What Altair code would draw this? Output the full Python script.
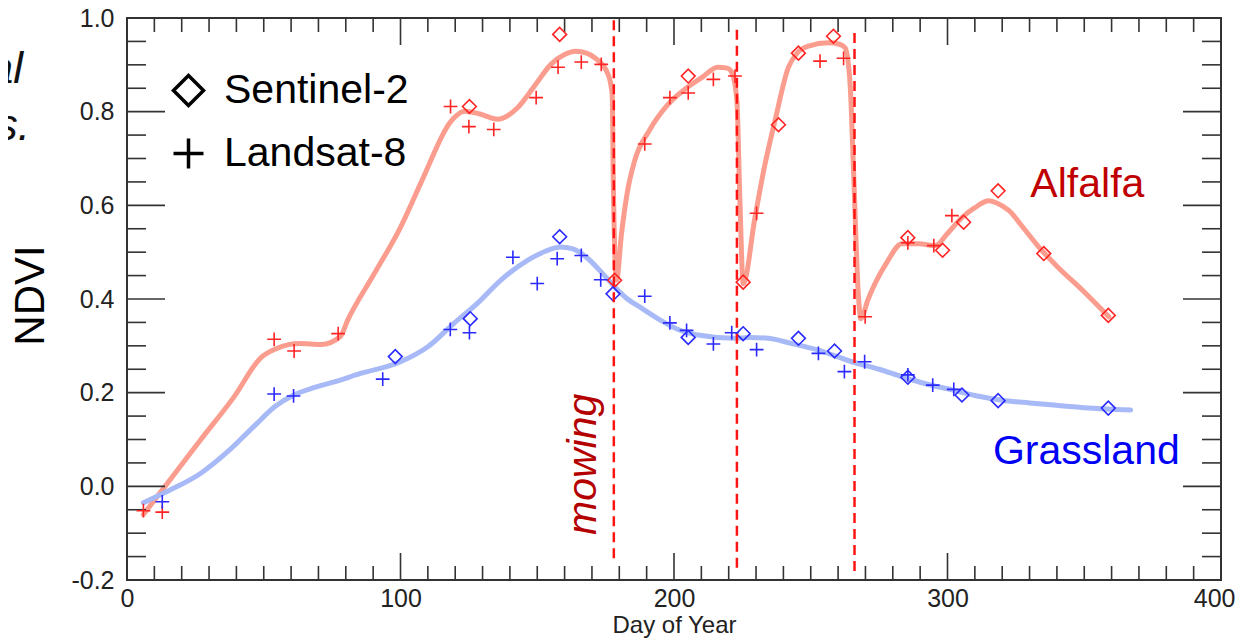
import altair as alt
import pandas as pd

# ---------------- data ----------------
# smoothed curves
alf_line_day = [6, 13, 27, 39, 49, 55, 63, 71, 78, 80.7, 90, 100, 108, 118.5, 123.4, 129,
                135.6, 142.9, 149, 155, 160, 164, 168, 171, 175.9, 177.4, 177.8, 179,
                180.8, 183, 185.6, 191, 197.9, 204, 210, 216, 219.5, 221.2, 223, 224.1,
                225.3, 229.6, 233, 236.9, 241.8, 245, 249.2, 256.5, 260.5, 262.6, 264.4,
                265.6, 267.5, 268.3, 271, 273.5, 278, 283.3, 289.5, 295.5, 300, 305.3,
                310, 315.1, 318, 322.4, 328, 333.4, 340, 350, 359]
alf_line_ndvi = [-0.06, -0.007, 0.10, 0.19, 0.275, 0.295, 0.305, 0.303, 0.32, 0.355, 0.45,
                 0.553, 0.655, 0.78, 0.801, 0.795, 0.784, 0.809, 0.855, 0.901, 0.922, 0.929,
                 0.925, 0.915, 0.880, 0.837, 0.65, 0.44, 0.539, 0.63, 0.695, 0.76, 0.816,
                 0.848, 0.872, 0.895, 0.893, 0.883, 0.823, 0.61, 0.433, 0.574, 0.68, 0.78,
                 0.894, 0.925, 0.94, 0.947, 0.944, 0.936, 0.858, 0.681, 0.40, 0.358, 0.40,
                 0.433, 0.48, 0.518, 0.518, 0.514, 0.54, 0.574, 0.595, 0.61, 0.605, 0.589,
                 0.55, 0.511, 0.47, 0.415, 0.362]
grs_line_day = [6, 15, 27, 37, 46.4, 54, 61, 68, 75.8, 85.4, 100, 110, 119.5, 128, 136.6,
                146.3, 153, 158.5, 163, 168.6, 173, 178.3, 183, 188, 195, 201.5, 210, 222,
                228, 234.5, 243, 252.8, 265, 275, 283.3, 292, 301.6, 310, 319.9, 330, 337.7,
                350, 367]
grs_line_ndvi = [-0.035, -0.01, 0.028, 0.075, 0.128, 0.17, 0.195, 0.21, 0.223, 0.241, 0.266,
                 0.298, 0.348, 0.39, 0.44, 0.482, 0.502, 0.511, 0.507, 0.486, 0.46, 0.426,
                 0.40, 0.381, 0.355, 0.335, 0.322, 0.316, 0.318, 0.316, 0.305, 0.291, 0.266,
                 0.25, 0.234, 0.219, 0.206, 0.194, 0.184, 0.178, 0.174, 0.168, 0.163]

# observations
alf_s2_day = [125.2, 158.2, 178.3, 205.2, 225.3, 238.2, 245.5, 258.3, 285.5, 298.2, 305.9,
              318.5, 335.2, 358.8]
alf_s2_ndvi = [0.811, 0.965, 0.44, 0.876, 0.436, 0.772, 0.925, 0.961, 0.531, 0.504, 0.564,
               0.631, 0.497, 0.365]
alf_l8_day = [6, 12.9, 53.8, 61.1, 77.2, 118.3, 125, 134.1, 149.6, 157.6, 166.1, 173.4,
              189.3, 198.5, 205.2, 214.4, 222.3, 230.2, 253.4, 262, 269.9, 285.5, 295,
              301.6]
alf_l8_ndvi = [-0.052, -0.055, 0.314, 0.289, 0.326, 0.811, 0.768, 0.762, 0.830, 0.895, 0.906,
               0.901, 0.731, 0.830, 0.840, 0.869, 0.876, 0.583, 0.908, 0.914, 0.362, 0.52,
               0.514, 0.578]
grs_s2_day = [98.1, 125.5, 158.2, 177.7, 205.2, 225.3, 245.5, 258.7, 285.5, 305.3, 318.5,
              358.8]
grs_s2_ndvi = [0.277, 0.358, 0.533, 0.411, 0.318, 0.326, 0.316, 0.289, 0.233, 0.195, 0.183,
               0.167]
grs_l8_day = [12.9, 53.8, 60.9, 93.5, 118.2, 125.2, 141.1, 150, 157.3, 166.1, 173.2, 189.3,
              198.5, 204.6, 214.4, 221.1, 230.2, 252.8, 262.3, 269.7, 285.5, 294.6, 302.3]
grs_l8_ndvi = [-0.033, 0.197, 0.193, 0.229, 0.335, 0.328, 0.489, 0.433, 0.486, 0.493, 0.441,
               0.406, 0.349, 0.333, 0.304, 0.328, 0.292, 0.284, 0.245, 0.266, 0.238, 0.216,
               0.207]

mowing_day = [178, 223, 266]
mowing_top = [0.995, 0.975, 0.968]
mowing_bottom = [-0.165, -0.183, -0.193]

crops = ["Alfalfa", "Grassland"]
sensors = ["Sentinel-2", "Landsat-8"]
crop_label_day = [330.3, 316.6]
crop_label_ndvi = [0.618, 0.047]
mowing_label = "mowing"
mowing_label_day = [171.3]
mowing_label_ndvi = [0.047]

x_major = [0, 100, 200, 300, 400]
x_minor = [d for d in range(0, 401, 10) if d % 100]
y_major = [-0.2, 0.0, 0.2, 0.4, 0.6, 0.8, 1.0]
y_minor = [round(-0.2 + 0.05 * i, 2) for i in range(25) if i % 4]

# ---------------- tables ----------------
lines_df = pd.concat([
    pd.DataFrame({"day": alf_line_day, "ndvi": alf_line_ndvi, "crop": "Alfalfa"}),
    pd.DataFrame({"day": grs_line_day, "ndvi": grs_line_ndvi, "crop": "Grassland"}),
])
pts_df = pd.concat([
    pd.DataFrame({"day": alf_s2_day, "ndvi": alf_s2_ndvi, "crop": "Alfalfa", "sensor": "Sentinel-2"}),
    pd.DataFrame({"day": alf_l8_day, "ndvi": alf_l8_ndvi, "crop": "Alfalfa", "sensor": "Landsat-8"}),
    pd.DataFrame({"day": grs_s2_day, "ndvi": grs_s2_ndvi, "crop": "Grassland", "sensor": "Sentinel-2"}),
    pd.DataFrame({"day": grs_l8_day, "ndvi": grs_l8_ndvi, "crop": "Grassland", "sensor": "Landsat-8"}),
])
mow_df = pd.DataFrame({"day": mowing_day, "top": mowing_top, "bottom": mowing_bottom})
clab_df = pd.DataFrame({"day": crop_label_day, "ndvi": crop_label_ndvi, "crop": crops})
mlab_df = pd.DataFrame({"day": mowing_label_day, "ndvi": mowing_label_ndvi, "t": [mowing_label]})

W, H = 1094, 562
FONT = "Liberation Sans"
xs = alt.Scale(domain=[0, 400], nice=False, zero=False)
ys = alt.Scale(domain=[-0.2, 1.0], nice=False, zero=False)

x_enc = alt.X("day:Q", scale=xs, axis=alt.Axis(
    values=x_major, title="Day of Year", ticks=False, domain=False, grid=False,
    labelFontSize=25, labelPadding=6, labelColor="#222", labelFlush=False,
    labelAlign={"condition": {"test": "datum.value === 400", "value": "right"}, "value": "center"},
    labelOffset={"condition": {"test": "datum.value === 400", "value": 14}, "value": 0},
    titleFontSize=24, titleFontWeight="normal", titleColor="#222",
    titleY=52, titleBaseline="alphabetic"))
y_enc = alt.Y("ndvi:Q", scale=ys, axis=alt.Axis(
    values=y_major, title="NDVI", ticks=False, domain=False, grid=False,
    labelExpr="datum.value < 0 ? '-' + format(-datum.value, '.1f') : format(datum.value, '.1f')",
    labelFontSize=25, labelPadding=13, labelColor="#222", labelFlush=False,
    titleFontSize=42, titleFontWeight="normal", titleColor="black", titleAngle=270,
    titleX=-84, titleY=277, titleBaseline="alphabetic", titleAlign="center"))

lines = alt.Chart(lines_df).mark_line(interpolate="monotone", strokeWidth=5, strokeCap="round").encode(
    x=x_enc, y=y_enc,
    color=alt.Color("crop:N", scale=alt.Scale(domain=crops, range=["#fb9d8e", "#a8b9f8"]), legend=None),
)

plus_path = "M-1,0H1M0,-1V1"
points = alt.Chart(pts_df).mark_point(filled=False, opacity=1).encode(
    x="day:Q", y="ndvi:Q",
    color=alt.Color("crop:N", scale=alt.Scale(domain=crops, range=["#ff2424", "#2a2aff"]), legend=None),
    shape=alt.Shape("sensor:N", scale=alt.Scale(domain=sensors, range=["diamond", plus_path]),
                    legend=alt.Legend(orient="none", legendX=41, legendY=52, title=None,
                                      labelFontSize=41, labelFont=FONT, labelColor="black",
                                      labelLimit=500,
                                      symbolSize=900, symbolStrokeWidth=3.5,
                                      symbolStrokeColor="black", symbolFillColor="transparent",
                                      labelOffset=15, rowPadding=18, padding=0)),
    size=alt.value(190),
    strokeWidth=alt.value(1.6),
)

mow = alt.Chart(mow_df).mark_rule(color="#ff1414", strokeWidth=2.5, strokeDash=[10, 6]).encode(
    x="day:Q", y="top:Q", y2="bottom:Q")

clab = alt.Chart(clab_df).mark_text(fontSize=41, font=FONT, align="left", baseline="alphabetic").encode(
    x="day:Q", y="ndvi:Q", text="crop:N",
    color=alt.Color("crop:N", scale=alt.Scale(domain=crops, range=["#c00000", "#0000f5"]), legend=None))

mlab = alt.Chart(mlab_df).mark_text(fontSize=41, font=FONT, fontStyle="italic", angle=270,
                                    align="center", baseline="alphabetic", color="#b40000").encode(
    x="day:Q", y="ndvi:Q", text="t:N")

tick_col = "#333"
tx_major = pd.DataFrame({"day": x_major})
tx_minor = pd.DataFrame({"day": x_minor})
ty_major = pd.DataFrame({"ndvi": y_major})
ty_minor = pd.DataFrame({"ndvi": y_minor})
ticks = [
    alt.Chart(tx_major).mark_rule(color=tick_col, strokeWidth=1.6).encode(x="day:Q", y=alt.value(H), y2=alt.value(H - 27)),
    alt.Chart(tx_major).mark_rule(color=tick_col, strokeWidth=1.6).encode(x="day:Q", y=alt.value(0), y2=alt.value(27)),
    alt.Chart(tx_minor).mark_rule(color=tick_col, strokeWidth=1.6).encode(x="day:Q", y=alt.value(H), y2=alt.value(H - 14)),
    alt.Chart(tx_minor).mark_rule(color=tick_col, strokeWidth=1.6).encode(x="day:Q", y=alt.value(0), y2=alt.value(14)),
    alt.Chart(ty_major).mark_rule(color=tick_col, strokeWidth=1.6).encode(y="ndvi:Q", x=alt.value(0), x2=alt.value(38)),
    alt.Chart(ty_major).mark_rule(color=tick_col, strokeWidth=1.6).encode(y="ndvi:Q", x=alt.value(W), x2=alt.value(W - 38)),
    alt.Chart(ty_minor).mark_rule(color=tick_col, strokeWidth=1.6).encode(y="ndvi:Q", x=alt.value(0), x2=alt.value(19)),
    alt.Chart(ty_minor).mark_rule(color=tick_col, strokeWidth=1.6).encode(y="ndvi:Q", x=alt.value(W), x2=alt.value(W - 19)),
]

partial = [
    alt.Chart(pd.DataFrame({"t": ["al"]})).mark_text(fontSize=44, font=FONT, fontStyle="italic",
        align="right", baseline="alphabetic", color="#111").encode(text="t:N", x=alt.value(-104), y=alt.value(65)),
    alt.Chart(pd.DataFrame({"t": ["s."]})).mark_text(fontSize=44, font=FONT, fontStyle="italic",
        align="right", baseline="alphabetic", color="#111").encode(text="t:N", x=alt.value(-97), y=alt.value(122)),
]

chart = alt.layer(lines, *ticks, points, mow, clab, mlab, *partial).resolve_scale(
    color="independent").properties(
    width=W, height=H,
    autosize=alt.AutoSizeParams(type="none"),
    padding={"left": 119, "top": 10, "right": 14, "bottom": 58},
).configure(font=FONT).configure_view(stroke="#333", strokeWidth=2)

chart.save("out.html", embed_options={"renderer": "svg", "actions": False})
